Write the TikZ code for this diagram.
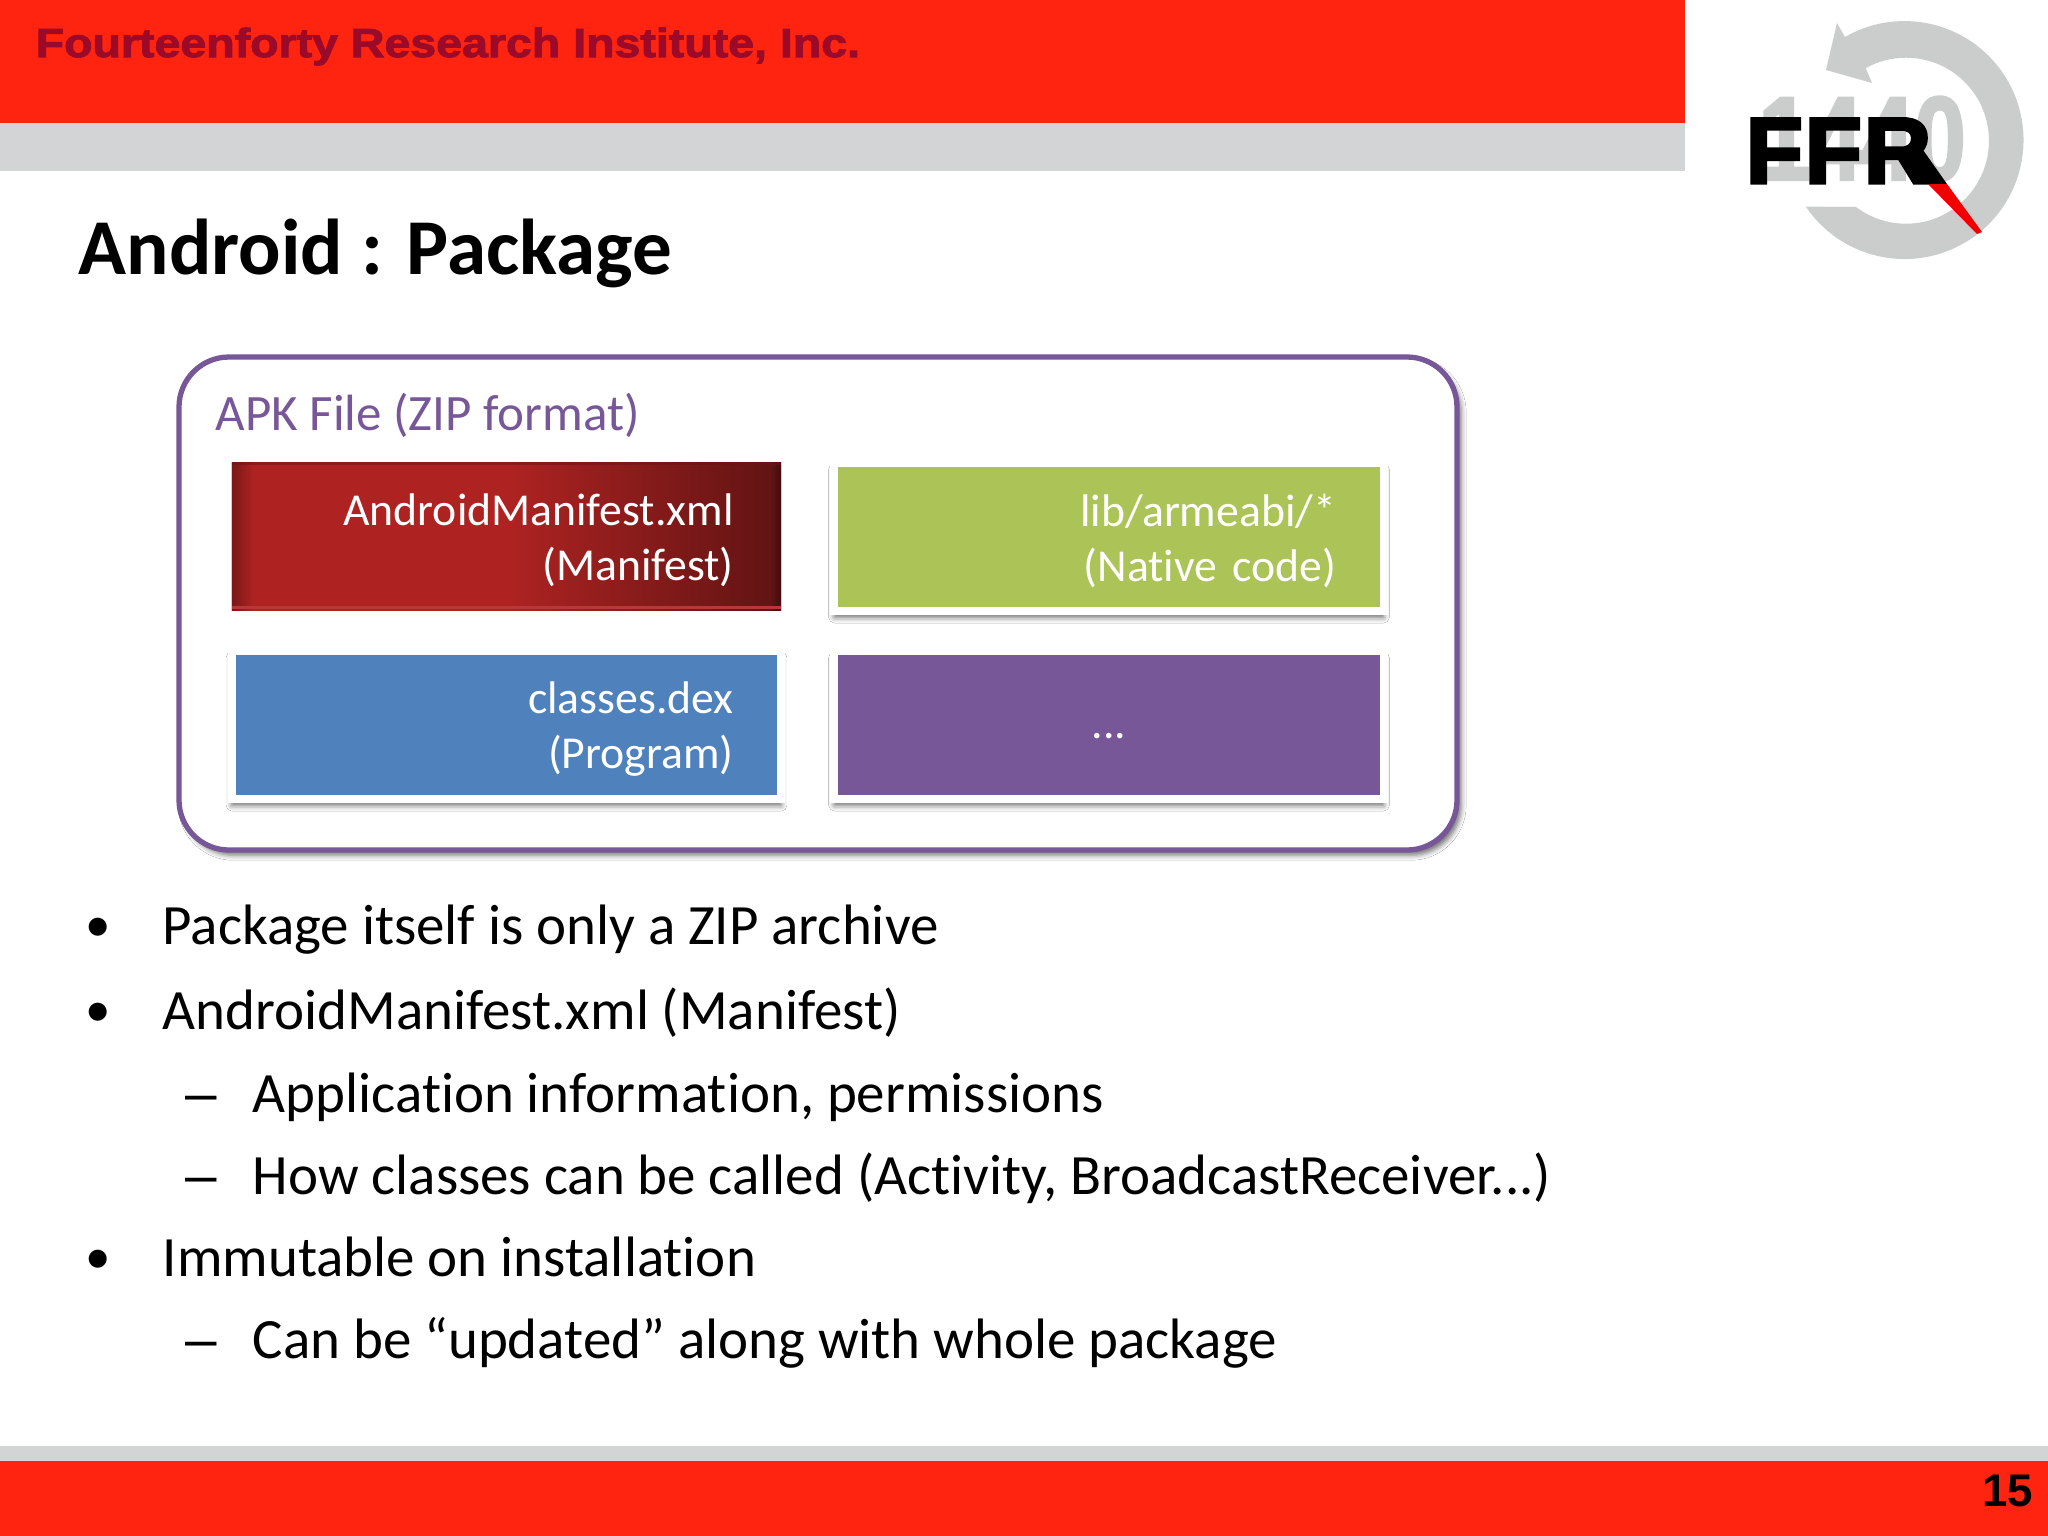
\documentclass[tikz,border=0pt]{standalone}
\usepackage{fontspec}
\usetikzlibrary{shadows, shadows.blur}
\setmainfont[Ligatures=NoCommon]{Carlito}
\newfontfamily\headfont[FakeBold=2.5, FakeStretch=1.15]{Liberation Sans Bold}
\newfontfamily\numfont{Liberation Sans Bold}
\newfontfamily\dashfont{Liberation Sans}
\newfontfamily\logofont[FakeBold=3.5, LetterSpace=2]{Liberation Sans Bold}
\newfontfamily\yearfont[FakeBold=2, FakeStretch=0.78]{Liberation Sans Bold}
\definecolor{BarRed}{HTML}{FF2410}
\definecolor{BarGray}{HTML}{D3D4D6}
\definecolor{HeadRed}{HTML}{9C0A2A}
\definecolor{LogoGray}{HTML}{CBCCCC}
\definecolor{MyPurple}{HTML}{775797}
\definecolor{MyGreen}{HTML}{ABC357}
\definecolor{MyBlue}{HTML}{4F81BD}
\definecolor{MyMaroon}{HTML}{AE2322}
\tikzset{
	pkgtext/.style={inner sep=0pt, text=white, font=\fontsize{13}{15.6}\selectfont, align=right, text width=4.54cm, text height=11.3pt},
	pkgbox/.style={pkgtext, draw=white, line width=2.3pt, minimum width=5.49cm, minimum height=1.48cm, blur shadow={shadow xshift=0pt, shadow yshift=-1.8pt, shadow blur radius=1.6pt, shadow opacity=60}},
	bulletitem/.style={anchor=base west, inner sep=0pt, font=\fontsize{16.2}{19}\selectfont},
	bulletmark/.style={anchor=base, inner sep=0pt, yshift=0.6pt, font=\fontsize{14.5}{19}\selectfont},
	dashmark/.style={anchor=base, inner sep=0pt, font=\fontsize{16.1}{19}\dashfont}
}
\begin{document}
\begin{tikzpicture}[x=0.01cm, y=-0.01cm]
	\useasboundingbox (0, 0) rectangle (2048, 1536);
	\fill[white] (0, 0) rectangle (2048, 1536);
	
	\fill[BarRed] (0, 0) rectangle (1685, 123);
	\fill[BarGray] (0, 123) rectangle (1685, 171);
	\fill[BarGray] (0, 1446) rectangle (2048, 1461);
	\fill[BarRed] (0, 1461) rectangle (2048, 1536);
	
	\node[anchor=base west, inner sep=0pt, text=HeadRed, font=\fontsize{11.5}{14}\headfont] (head) at (35, 57) {Fourteenforty Research Institute, Inc.};
	\node[anchor=base east, inner sep=0pt, font=\fontsize{13}{14}\numfont] (pagenum) at (2034, 1506) {15};
	\node[anchor=base west, inner sep=0pt, font=\fontsize{22.5}{26}\selectfont\bfseries] (title) at (78, 274) {Android : Package};
	
%	logo
	\fill[LogoGray] (1845, 37) arc (-120:146:119) -- (1856, 207) arc (127:-119:83) -- (1872, 83) -- (1826, 70) -- (1837, 23) -- cycle;
	\node[anchor=base, inner sep=0pt, text=LogoGray, font=\fontsize{34}{36}\yearfont] (year) at (1862, 180) {1440};
	\node[anchor=base west, inner sep=0pt, font=\fontsize{26.6}{30}\logofont] (ffr) at (1745, 183) {FFR};
	\fill (1900, 150) -- (1923, 150) -- (1947, 184) -- (1928, 184) -- cycle;
	\fill[red!95!black] (1928, 184) -- (1947, 184) -- (1982, 232) -- (1977, 234) -- cycle;
	
%	package
	\draw[MyPurple, line width=1.5pt, fill=white, rounded corners=0.5cm, blur shadow={shadow xshift=1.2pt, shadow yshift=-1.5pt, shadow blur radius=1.4pt, shadow opacity=55}] (179, 357) rectangle (1457, 850);
	\node[anchor=base west, inner sep=0pt, text=MyPurple, font=\fontsize{14.5}{18}\selectfont] (apk) at (215, 430) {APK File (ZIP format)};
	
	\node[inner sep=0pt, outer sep=0pt, minimum width=5.49cm, minimum height=1.48cm, left color=MyMaroon, right color=MyMaroon!55!black, middle color=MyMaroon] (manifest) at (506.5, 536.5) {};
	\shade[left color=MyMaroon!70!black, right color=MyMaroon] (manifest.north west) rectangle ([xshift=0.22cm]manifest.south west);
	\shade[left color=MyMaroon!55!black, right color=MyMaroon!38!black] ([xshift=-0.1cm]manifest.north east) rectangle (manifest.south east);
	\fill[MyMaroon!90!white] ([yshift=1.2pt]manifest.south west) rectangle ([yshift=0.3pt]manifest.south east);
	\fill[MyMaroon!60!black, opacity=0.5] ([yshift=-0.8pt]manifest.north west) rectangle (manifest.north east);
	\node[pkgtext] (manifesttext) at (manifest) {AndroidManifest.xml\\(Manifest)};
	\node[pkgbox, fill=MyGreen] (native) at (1109, 537) {lib/armeabi/*\\(Native code)};
	\node[pkgbox, fill=MyBlue] (dex) at (506.5, 725) {classes.dex\\(Program)};
	\node[pkgbox, fill=MyPurple, align=center, text height=8.5pt] (other) at (1109, 725) {\raisebox{-1pt}{\vphantom{(}...}};
	
	\node[bulletmark] (b1) at (98, 944) {•};
	\node[bulletitem] (t1) at (162, 944) {Package itself is only a ZIP archive};
	\node[bulletmark] (b2) at (98, 1029) {•};
	\node[bulletitem] (t2) at (162, 1029) {AndroidManifest.xml (Manifest)};
	\node[dashmark] (d1) at (201, 1112) {–};
	\node[bulletitem] (t3) at (252, 1112) {Application information, permissions};
	\node[dashmark] (d2) at (201, 1194) {–};
	\node[bulletitem] (t4) at (252, 1194) {How classes can be called (Activity, BroadcastReceiver...)};
	\node[bulletmark] (b3) at (98, 1276) {•};
	\node[bulletitem] (t5) at (162, 1276) {Immutable on installation};
	\node[dashmark] (d3) at (201, 1358) {–};
	\node[bulletitem] (t6) at (252, 1358) {Can be “updated” along with whole package};
\end{tikzpicture}
\end{document}
